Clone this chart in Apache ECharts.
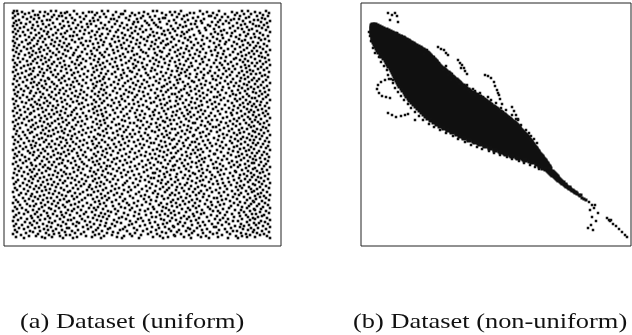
<!DOCTYPE html>
<html>
<head>
<meta charset="utf-8">
<script src="https://cdn.jsdelivr.net/npm/echarts@6/dist/echarts.min.js"></script>
<style>
  html, body { margin: 0; padding: 0; background: #fff; }
  #chart { width: 632px; height: 335px; }
</style>
</head>
<body>
<div id="chart"></div>
<script>
// Sub-figure captions
const captions = ['(a) Dataset (uniform)', '(b) Dataset (non-uniform)'];

// Uniform dataset, stored row by row: [y, x1, x2, ...]
const uniformRows = [
[235,10,13,29,47,52,70,98,104,121,149,153,177,196,215,238,244,262],
[234,18,36,41,63,85,88,112,140,166,171,203,228,251],
[233,9,25,57,61,79,93,128,135,158,186,190,209,233,256,265],
[232,14,21,44,73,100,117,119,144,175,199,221,240,247],
[231,31,34,50,66,91,109,131,162,168,183,213,231,259],
[230,11,40,55,58,82,126,139,151,180,205,207,236,253,264],
[229,19,27,48,76,96,102,115,146,173,194,218,224,245],
[228,9,35,62,68,89,122,137,159,161,189,211,242,258],
[227,23,30,53,80,107,110,133,155,178,200,230,235,261],
[226,15,43,46,71,94,125,148,170,184,216,227,250,254],
[225,12,38,59,86,90,113,141,165,192,197,222,239,266],
[224,26,33,64,77,105,130,134,156,181,208,214,246,257],
[223,10,17,49,69,97,118,143,150,172,198,225,233,263],
[222,22,39,56,83,87,111,129,163,187,191,219,241,249],
[221,13,29,45,74,101,123,145,152,176,204,212,237,260],
[220,9,34,60,65,92,116,138,167,182,206,229,252,255],
[219,20,42,51,78,84,108,132,154,179,193,215,243,264],
[218,16,28,58,72,99,120,127,157,174,201,226,234,258],
[217,11,37,47,67,95,103,136,147,169,188,210,238,248],
[216,24,31,54,81,114,124,142,164,185,202,220,245,262],
[215,14,40,63,76,88,106,131,160,171,195,217,231,253],
[214,9,19,44,70,93,112,139,149,178,183,211,240,266],
[213,27,35,52,61,85,118,128,153,166,196,223,228,256],
[212,12,43,57,80,98,104,134,158,180,207,214,244,250],
[211,21,32,49,73,91,121,146,161,173,190,218,236,259],
[210,16,38,66,69,96,110,126,150,177,199,227,242,264],
[209,10,25,45,59,87,114,137,144,168,186,209,232,251],
[208,30,36,53,78,102,119,129,155,181,203,219,247,255],
[207,13,41,62,75,92,108,140,163,170,192,213,235,261],
[206,22,28,48,68,97,123,133,152,184,198,225,241,257],
[205,9,34,56,82,86,115,143,159,175,206,216,238,265],
[204,18,39,51,71,100,111,127,148,167,187,222,230,249],
[203,11,26,60,77,94,120,136,157,179,194,210,244,254],
[202,24,33,47,65,89,106,132,151,164,200,221,233,260],
[201,15,42,55,79,99,117,141,162,172,190,215,239,246],
[200,10,30,50,63,84,107,125,147,183,197,228,252,263],
[199,20,37,58,74,95,113,135,154,169,205,212,236,256],
[198,13,27,44,67,90,118,129,160,177,188,217,243,250],
[197,23,35,53,81,103,122,145,150,182,199,224,231,259],
[196,9,40,61,72,93,109,137,166,174,193,211,240,266],
[195,17,29,46,64,87,114,128,156,185,207,220,248,253],
[194,12,36,55,78,101,124,139,158,171,196,229,237,262],
[193,25,32,49,70,96,110,142,151,180,202,214,245,257],
[192,15,43,59,83,88,119,133,165,176,191,219,234,250],
[191,21,28,52,69,98,105,130,153,186,208,226,242,264],
[190,10,38,62,76,91,116,144,163,173,195,213,238,255],
[189,26,34,47,74,100,121,136,157,179,201,222,247,258],
[188,14,41,57,66,86,112,127,149,168,189,217,232,261],
[187,19,31,54,79,95,108,140,160,184,198,230,241,251],
[186,9,37,45,73,90,117,131,152,175,205,212,236,265],
[185,23,29,60,82,103,125,146,166,182,192,221,244,256],
[184,16,42,50,68,94,111,134,155,171,199,227,239,262],
[183,11,33,56,77,99,122,138,161,187,210,216,248,253],
[182,27,39,48,71,87,106,129,150,176,196,224,233,259],
[181,13,24,61,75,96,118,143,165,180,203,218,241,266],
[180,20,44,53,65,92,113,132,154,172,188,229,245,251],
[179,10,35,58,81,101,109,139,158,185,207,213,237,257],
[178,17,30,46,72,89,124,130,148,174,194,220,242,263],
[177,26,38,62,78,98,114,141,164,178,200,225,231,254],
[176,12,43,51,67,93,119,135,151,183,191,215,246,260],
[175,22,29,57,84,104,126,147,168,173,206,222,238,249],
[174,9,36,47,74,90,111,128,157,181,197,228,243,265],
[173,18,40,63,70,97,120,142,162,177,204,211,235,256],
[172,14,27,54,80,102,108,133,153,186,193,219,247,252],
[171,25,34,49,68,88,117,144,167,175,200,226,240,261],
[170,11,39,60,76,95,123,137,159,182,208,214,233,258],
[169,21,31,52,83,100,112,131,150,171,192,223,244,264],
[168,16,44,58,71,91,118,146,165,185,199,217,237,250],
[167,10,28,45,65,99,105,127,156,176,209,229,241,255],
[166,23,37,55,79,87,115,140,161,173,195,212,248,262],
[165,13,41,61,73,96,124,134,152,188,202,221,236,253],
[164,19,30,48,69,93,110,143,166,179,190,227,245,259],
[163,27,35,57,82,101,121,129,155,174,206,216,232,266],
[162,9,42,50,75,89,114,138,163,184,197,224,240,251],
[161,15,33,63,67,98,107,132,149,170,201,213,243,257],
[160,22,38,53,78,92,119,145,160,181,193,230,235,263],
[159,12,29,46,70,103,126,136,158,186,208,219,247,254],
[158,24,40,59,84,90,111,141,167,172,198,225,238,260],
[157,17,34,51,66,97,116,130,153,180,191,211,244,250],
[156,10,43,56,77,100,122,147,164,177,204,218,234,265],
[155,20,27,62,72,88,109,135,157,187,195,228,241,256],
[154,14,36,48,80,95,125,139,162,175,207,214,249,261],
[153,26,32,55,68,102,113,128,151,183,199,222,236,252],
[152,11,39,60,76,91,120,144,168,171,192,229,243,258],
[151,19,45,52,83,99,106,133,159,185,203,216,232,264],
[150,13,30,64,71,94,117,140,154,178,196,226,245,255],
[149,23,37,47,74,87,124,131,165,173,210,213,239,262],
[148,16,41,57,79,103,112,146,152,188,200,220,248,251],
[147,9,28,50,67,96,118,137,160,176,193,231,236,259],
[146,25,35,61,82,90,108,129,156,182,206,217,242,266],
[145,12,43,53,73,100,121,142,166,172,197,224,233,253],
[144,18,31,58,69,92,115,134,150,187,203,211,246,257],
[143,22,40,46,78,98,110,147,163,179,191,228,239,263],
[142,10,33,63,75,88,125,130,157,174,208,215,244,250],
[141,27,36,54,84,104,116,139,161,185,198,221,236,256],
[140,14,44,49,66,95,107,135,153,171,195,230,248,261],
[139,20,29,59,80,91,122,143,167,181,204,212,240,252],
[138,11,38,52,72,101,113,128,158,188,192,225,234,265],
[137,24,34,62,77,89,119,145,164,176,209,218,243,258],
[136,16,42,48,70,97,109,133,151,183,197,229,247,254],
[135,9,30,57,85,93,126,138,160,173,201,214,237,262],
[134,21,39,53,68,102,117,149,169,186,194,222,245,250],
[133,13,27,61,79,90,111,131,155,178,207,227,233,259],
[132,26,45,50,73,98,123,141,162,184,199,216,241,264],
[131,17,35,56,67,94,106,136,150,172,190,228,249,255],
[130,10,41,64,82,99,120,146,168,180,205,211,238,261],
[129,23,31,47,76,87,114,132,157,187,196,223,244,252],
[128,15,37,58,71,103,125,140,163,175,202,219,235,266],
[127,20,43,54,83,92,110,148,154,182,193,230,246,257],
[126,12,28,62,69,100,118,134,166,170,208,213,240,251],
[125,25,36,51,78,96,121,137,159,185,198,226,233,263],
[124,9,40,59,74,89,108,143,161,177,204,217,248,254],
[123,18,32,48,65,101,126,130,152,189,191,222,242,260],
[122,14,44,55,81,93,115,147,167,173,206,229,236,256],
[121,22,29,63,72,97,112,139,156,180,197,215,245,265],
[120,11,38,46,77,104,119,133,164,184,201,224,232,250],
[119,27,34,57,68,88,124,145,153,176,209,212,247,259],
[118,16,42,52,84,95,107,136,160,187,194,220,238,262],
[117,10,31,61,70,102,116,142,168,171,203,228,243,253],
[116,24,39,49,79,91,122,129,155,183,192,216,235,257],
[115,13,45,58,66,99,113,148,162,178,207,225,249,264],
[114,19,28,54,75,87,120,135,151,186,199,213,240,251],
[113,26,37,60,82,103,109,141,166,174,196,230,236,260],
[112,12,41,50,71,94,126,131,158,181,205,219,245,255],
[111,21,33,64,78,96,114,144,163,172,190,223,233,266],
[110,15,44,47,68,100,118,137,154,189,202,215,248,258],
[109,9,30,56,85,90,123,128,160,177,197,227,239,252],
[108,23,38,59,73,105,111,146,165,184,210,220,243,263],
[107,17,35,53,67,92,119,139,152,170,193,231,237,256],
[106,11,42,62,80,98,108,134,168,182,204,214,246,250],
[105,25,29,48,76,88,125,143,157,175,199,226,234,261],
[104,14,40,57,69,101,115,130,161,188,191,218,241,265],
[103,20,32,63,83,95,121,147,150,179,206,228,249,254],
[102,10,45,51,72,89,110,136,166,173,195,212,237,259],
[101,27,36,55,79,104,117,140,155,186,201,222,244,252],
[100,16,31,61,66,93,124,132,162,180,208,216,233,264],
[99,22,43,47,75,97,112,145,158,171,192,230,247,257],
[98,12,28,58,84,91,106,138,169,184,203,219,240,262],
[97,19,39,52,70,102,120,128,153,177,197,225,236,250],
[96,9,34,64,77,87,116,149,164,189,194,213,245,266],
[95,24,41,49,68,99,109,135,156,174,206,229,242,255],
[94,15,30,60,81,94,126,142,160,182,199,217,234,260],
[93,26,37,54,73,103,114,131,167,172,191,224,248,253],
[92,11,44,57,65,90,122,146,151,187,210,211,238,263],
[91,18,29,50,79,98,107,137,163,178,196,227,243,258],
[90,13,35,62,74,92,118,141,155,183,205,220,235,251],
[89,21,40,47,82,101,125,133,159,170,193,232,246,265],
[88,10,33,56,69,88,113,148,168,186,201,214,240,256],
[87,25,43,53,76,96,110,130,152,176,198,223,249,261],
[86,16,31,59,85,104,121,144,161,181,207,218,237,252],
[85,22,38,64,71,93,116,138,166,173,195,228,244,264],
[84,12,45,50,78,89,108,127,154,188,200,212,233,257],
[83,19,27,58,67,100,123,146,157,178,192,225,248,250],
[82,9,36,55,80,95,112,135,164,184,209,216,241,262],
[81,28,41,48,72,91,119,142,150,171,197,230,236,255],
[80,14,32,61,83,103,106,131,169,180,204,219,245,260],
[79,23,39,52,75,97,126,139,159,187,193,227,234,266],
[78,17,44,63,69,87,115,147,162,175,210,213,242,251],
[77,11,30,46,79,102,109,133,153,182,198,222,249,258],
[76,26,35,57,74,94,120,143,167,170,203,217,238,263],
[75,15,42,51,86,99,113,128,156,185,195,231,244,253],
[74,20,28,60,70,90,124,140,163,177,206,214,232,259],
[73,10,38,54,77,104,117,149,151,189,199,226,247,256],
[72,24,33,62,66,92,107,135,160,173,191,220,240,265],
[71,13,45,49,81,98,122,130,166,181,208,216,236,250],
[70,18,31,58,73,88,111,144,155,186,197,229,243,261],
[69,27,40,53,84,101,118,137,161,172,202,211,248,254],
[68,9,36,64,68,95,126,147,150,179,193,224,235,257],
[67,21,29,47,78,91,109,132,167,184,207,218,241,264],
[66,14,43,56,71,103,114,141,158,174,199,230,246,252],
[65,25,34,61,82,89,123,136,154,188,196,213,237,260],
[64,12,39,50,75,97,106,145,164,171,205,225,244,255],
[63,19,28,59,67,93,121,129,157,183,192,219,233,266],
[62,10,44,54,80,100,112,148,162,176,209,214,249,258],
[61,23,37,48,72,86,119,134,168,181,198,227,240,251],
[60,16,32,63,77,96,108,142,152,187,201,221,236,262],
[59,26,41,52,85,92,125,131,159,173,194,232,245,256],
[58,11,35,57,69,102,115,146,165,178,206,216,238,265],
[57,20,30,46,74,88,111,138,156,185,191,223,247,253],
[56,13,42,60,83,99,120,127,163,172,203,212,234,259],
[55,24,38,51,66,94,107,143,151,180,197,228,242,250],
[54,9,33,64,79,90,124,135,161,189,208,220,248,263],
[53,17,45,55,71,104,113,149,168,175,195,215,237,257],
[52,22,28,49,76,97,118,132,154,183,200,231,244,254],
[51,15,40,58,84,87,110,141,166,171,192,224,235,266],
[50,27,36,62,68,101,126,137,158,186,205,217,251,260],
[49,10,31,53,73,93,116,145,153,177,199,229,240,256],
[48,19,43,47,81,98,105,129,164,182,210,213,246,262],
[47,25,34,60,70,89,121,140,160,174,193,222,233,252],
[46,12,39,56,78,103,112,147,169,188,203,218,243,265],
[45,21,29,50,65,95,119,134,152,179,196,226,249,258],
[44,14,44,63,75,91,108,142,167,185,207,214,236,250],
[43,9,37,54,83,100,123,130,157,172,191,230,241,261],
[42,23,32,48,71,96,115,146,163,181,201,220,247,255],
[41,16,41,59,67,87,125,138,155,176,208,216,234,264],
[40,26,30,52,79,102,109,133,168,189,195,227,245,253],
[39,11,38,61,74,94,117,149,159,173,204,212,238,259],
[38,18,45,55,85,90,121,128,162,184,192,225,243,266],
[37,13,35,47,70,99,111,144,150,178,206,219,250,257],
[36,22,29,64,77,92,126,136,165,186,198,231,237,251],
[35,9,40,51,68,104,114,141,158,170,209,214,246,262],
[34,24,33,57,82,88,107,131,153,182,193,223,240,256],
[33,15,43,62,73,97,120,147,167,175,200,216,235,265],
[32,20,31,49,80,101,112,135,161,189,197,228,248,252],
[31,12,37,58,66,91,124,142,156,171,207,221,242,260],
[30,27,44,53,76,95,105,130,164,180,190,213,236,258],
[29,10,34,60,84,99,118,148,152,185,203,230,244,254],
[28,17,28,46,70,89,115,137,168,177,195,219,249,263],
[27,23,41,56,78,103,122,134,157,183,211,224,238,251],
[26,14,36,64,67,93,110,145,160,172,192,216,246,266],
[25,9,30,51,81,97,126,139,166,187,205,229,234,257],
[24,21,45,59,73,86,113,132,151,176,199,222,243,261],
[23,26,33,48,75,102,117,146,163,181,194,214,250,255],
[22,12,39,62,69,90,108,128,159,174,208,225,237,264],
[21,18,28,54,83,96,125,141,154,188,201,218,245,252],
[20,10,43,57,72,101,111,136,169,179,196,231,240,259],
[19,24,35,47,79,87,121,148,161,170,210,212,236,266],
[18,15,31,63,65,94,106,130,155,184,193,227,247,254],
[17,20,40,52,84,104,119,143,165,186,203,221,239,262],
[16,11,44,58,74,92,116,133,152,175,198,215,244,250],
[15,26,36,49,68,98,123,139,167,182,190,229,233,258],
[14,13,29,61,80,89,109,147,158,173,206,223,249,265],
[13,22,42,55,71,103,114,131,162,188,199,213,237,253],
[12,9,34,50,77,95,126,144,153,177,209,226,242,260],
[11,17,45,62,66,91,108,137,170,185,194,218,246,256],
[10,25,32,56,82,100,120,128,156,171,202,232,238,263],
[9,12,38,48,73,88,113,149,164,180,197,214,243,251],
[8,20,41,59,69,97,118,135,159,187,205,224,234,266]
];

// Non-uniform dataset, dense body of the band: [y, x1, x2, ...]
const clusterCoreRows = [
[221,12,14],[220,11,16],[219,13,18],[218,11,16,20],[217,13,18,22],[216,11,16,21,25],
[215,13,18,23,27],[214,11,16,21,26,29],[213,13,18,23,28,31],[212,11,16,21,26,31,33],
[211,13,18,23,28,33,35],[210,12,17,22,27,32,37],[209,14,19,24,29,34,39],
[208,12,17,22,27,32,37,42],[207,14,19,24,29,34,39,43],[206,12,17,22,27,32,37,42,45],
[205,15,20,25,30,35,40,45,47],[204,13,18,23,28,33,38,43,48],[203,15,20,25,30,35,40,45,50],
[202,14,19,24,29,34,39,44,49,52],[201,16,21,26,31,36,41,46,51,53],[200,15,20,25,30,35,40,45,50,55],
[199,17,22,27,32,37,42,47,52,57],[198,16,21,26,31,36,41,46,51,56,59],[197,18,23,28,33,38,43,48,53,58,60],
[196,17,22,27,32,37,42,47,52,57,62],[195,20,25,30,35,40,45,50,55,60,63],[194,18,23,28,33,38,43,48,53,58,63],
[193,21,26,31,36,41,46,51,56,61,66],[192,20,25,30,35,40,45,50,55,60,65,67],[191,23,28,33,38,43,48,53,58,63,68],
[190,21,26,31,36,41,46,51,56,61,66,69],[189,24,29,34,39,44,49,54,59,64,69],[188,23,28,33,38,43,48,53,58,63,68,71],
[187,26,31,36,41,46,51,56,61,66,71],[186,25,30,35,40,45,50,55,60,65,70,73],[185,27,32,37,42,47,52,57,62,67,72,74],
[184,26,31,36,41,46,51,56,61,66,71,75],[183,28,33,38,43,48,53,58,63,68,73,75],[182,27,32,37,42,47,52,57,62,67,72,76],
[181,30,35,40,45,50,55,60,65,70,75,77],[180,28,33,38,43,48,53,58,63,68,73,78],[179,31,36,41,46,51,56,61,66,71,76,79],
[178,30,35,40,45,50,55,60,65,70,75,80],[177,32,37,42,47,52,57,62,67,72,77,82],[176,31,36,41,46,51,56,61,66,71,76,81,83],
[175,33,38,43,48,53,58,63,68,73,78,83,84],[174,32,37,42,47,52,57,62,67,72,77,82,85],[173,34,39,44,49,54,59,64,69,74,79,84,87],
[172,33,38,43,48,53,58,63,68,73,78,83,88],[171,35,40,45,50,55,60,65,70,75,80,85,89],[170,34,39,44,49,54,59,64,69,74,79,84,89],
[169,36,41,46,51,56,61,66,71,76,81,86,91],[168,35,40,45,50,55,60,65,70,75,80,85,90,92],[167,37,42,47,52,57,62,67,72,77,82,87,92,93],
[166,36,41,46,51,56,61,66,71,76,81,86,91,95],[165,38,43,48,53,58,63,68,73,78,83,88,93,96],[164,37,42,47,52,57,62,67,72,77,82,87,92,97],
[163,39,44,49,54,59,64,69,74,79,84,89,94,98],[162,38,43,48,53,58,63,68,73,78,83,88,93,98,99],[161,40,45,50,55,60,65,70,75,80,85,90,95,100],
[160,39,44,49,54,59,64,69,74,79,84,89,94,99,102],[159,42,47,52,57,62,67,72,77,82,87,92,97,102,103],
[158,41,46,51,56,61,66,71,76,81,86,91,96,101,104],[157,43,48,53,58,63,68,73,78,83,88,93,98,103,105],
[156,42,47,52,57,62,67,72,77,82,87,92,97,102,107],[155,45,50,55,60,65,70,75,80,85,90,95,100,105,108],
[154,44,49,54,59,64,69,74,79,84,89,94,99,104,109],[153,46,51,56,61,66,71,76,81,86,91,96,101,106,111],
[152,45,50,55,60,65,70,75,80,85,90,95,100,105,110,113],[151,47,52,57,62,67,72,77,82,87,92,97,102,107,112,114],
[150,46,51,56,61,66,71,76,81,86,91,96,101,106,111,116],[149,49,54,59,64,69,74,79,84,89,94,99,104,109,114,118],
[148,48,53,58,63,68,73,78,83,88,93,98,103,108,113,118,119],[147,50,55,60,65,70,75,80,85,90,95,100,105,110,115,120,121],
[146,49,54,59,64,69,74,79,84,89,94,99,104,109,114,119,122],[145,52,57,62,67,72,77,82,87,92,97,102,107,112,117,122,124],
[144,51,56,61,66,71,76,81,86,91,96,101,106,111,116,121,125],[143,54,59,64,69,74,79,84,89,94,99,104,109,114,119,124,127],
[142,53,58,63,68,73,78,83,88,93,98,103,108,113,118,123,128],[141,56,61,66,71,76,81,86,91,96,101,106,111,116,121,126,129],
[140,55,60,65,70,75,80,85,90,95,100,105,110,115,120,125,130],[139,58,63,68,73,78,83,88,93,98,103,108,113,118,123,128,132],
[138,57,62,67,72,77,82,87,92,97,102,107,112,117,122,127,132,133],[137,60,65,70,75,80,85,90,95,100,105,110,115,120,125,130,135],
[136,59,64,69,74,79,84,89,94,99,104,109,114,119,124,129,134,136],[135,62,67,72,77,82,87,92,97,102,107,112,117,122,127,132,137],
[134,61,66,71,76,81,86,91,96,101,106,111,116,121,126,131,136,139],[133,64,69,74,79,84,89,94,99,104,109,114,119,124,129,134,139,140],
[132,63,68,73,78,83,88,93,98,103,108,113,118,123,128,133,138,141],[131,66,71,76,81,86,91,96,101,106,111,116,121,126,131,136,141,143],
[130,65,70,75,80,85,90,95,100,105,110,115,120,125,130,135,140,144],[129,68,73,78,83,88,93,98,103,108,113,118,123,128,133,138,143,145],
[128,67,72,77,82,87,92,97,102,107,112,117,122,127,132,137,142,146],[127,71,76,81,86,91,96,101,106,111,116,121,126,131,136,141,146,148],
[126,70,75,80,85,90,95,100,105,110,115,120,125,130,135,140,145,149],[125,74,79,84,89,94,99,104,109,114,119,124,129,134,139,144,149,150],
[124,73,78,83,88,93,98,103,108,113,118,123,128,133,138,143,148,151],[123,77,82,87,92,97,102,107,112,117,122,127,132,137,142,147,152,153],
[122,76,81,86,91,96,101,106,111,116,121,126,131,136,141,146,151,154],[121,80,85,90,95,100,105,110,115,120,125,130,135,140,145,150,155],
[120,79,84,89,94,99,104,109,114,119,124,129,134,139,144,149,154,156],[119,83,88,93,98,103,108,113,118,123,128,133,138,143,148,153,157],
[118,83,88,93,98,103,108,113,118,123,128,133,138,143,148,153,158],[117,87,92,97,102,107,112,117,122,127,132,137,142,147,152,157,158],
[116,87,92,97,102,107,112,117,122,127,132,137,142,147,152,157,159],[115,91,96,101,106,111,116,121,126,131,136,141,146,151,156,160],
[114,91,96,101,106,111,116,121,126,131,136,141,146,151,156,161],[113,96,101,106,111,116,121,126,131,136,141,146,151,156,161,162],
[112,96,101,106,111,116,121,126,131,136,141,146,151,156,161,163],[111,100,105,110,115,120,125,130,135,140,145,150,155,160,164],
[110,99,104,109,114,119,124,129,134,139,144,149,154,159,164,165],[109,103,108,113,118,123,128,133,138,143,148,153,158,163,166],
[108,103,108,113,118,123,128,133,138,143,148,153,158,163,167],[107,108,113,118,123,128,133,138,143,148,153,158,163,167],
[106,108,113,118,123,128,133,138,143,148,153,158,163,168],[105,113,118,123,128,133,138,143,148,153,158,163,168,169],
[104,114,119,124,129,134,139,144,149,154,159,164,169,170],[103,118,123,128,133,138,143,148,153,158,163,168,170],
[102,119,124,129,134,139,144,149,154,159,164,169,171],[101,124,129,134,139,144,149,154,159,164,169,172],
[100,124,129,134,139,144,149,154,159,164,169,172],[99,129,134,139,144,149,154,159,164,169,173],
[98,129,134,139,144,149,154,159,164,169,174],[97,134,139,144,149,154,159,164,169,174,175],
[96,134,139,144,149,154,159,164,169,174,175],[95,139,144,149,154,159,164,169,174,176],
[94,140,145,150,155,160,165,170,175,177],[93,144,149,154,159,164,169,174,177],
[92,145,150,155,160,165,170,175,178],[91,150,155,160,165,170,175,179],[90,151,156,161,166,171,176,180],
[89,156,161,166,171,176,181],[88,157,162,167,172,177,181],[87,163,168,173,178,182],[86,164,169,174,179,183],
[85,169,174,179,184],[84,171,176,181,184],[83,176,181,185],[82,176,181,186],[81,179,184,186],
[80,179,184,187],[79,182,186,188],[78,182,186,188],[77,185,189]
];

// Non-uniform dataset, thin tail of the band: [y, x1, x2, ...]
const clusterTailRows = [
[75,186,188,190,192],[74,187,189,191,193],[73,188,190,192,194],
[72,189,191,193,195],[71,190,192,194,196],[70,191,193,195,197],
[69,193,195,197],[68,194,196,198],[67,195,197,199],[66,196,198,200],
[65,197,199,201],[64,199,201,203],[63,200,202],[62,201,203,205],
[61,203,205],[60,204,206],[59,205,207,209],[58,207,209],[57,208,210],
[56,210,212],[55,211,213],[54,213,215],[53,214,216],[52,216],
[51,218,220],[50,219],[48,221],[47,223],[46,225]
];

// Non-uniform dataset: scattered points around the band, as [x, y]
const clusterStray = [
[27,233],[31,231],[34,233],[36,230],[29,226],[37,224],[9,210],[8,214],
[77,199],[80,197],[83,196],[85,193],[87,191],
[97,186],[99,183],[101,181],[100,178],[103,178],[104,175],[106,172],
[124,171],[127,170],[130,168],[133,164],[134,160],[136,156],[137,153],[138,151],[139,147],[141,142],
[151,139],[153,135],[155,131],[157,127],
[32,166],[28,167],[24,166],[20,164],[17,161],[16,157],[18,153],[21,150],[25,149],[29,148],
[27,133],[31,131],[35,129],[40,130],[44,131],[47,132],[54,126],
[30,214],[34,211],[44,208],[47,206],[52,203],[55,201],[57,199],[49,205],[41,210],[36,213],
[59,198],[62,197],[65,195],[63,192],[68,193],[71,190],[70,188],[74,187],[76,185],[73,189],[66,196],[78,183],
[78,181],[80,179],[83,178],[82,176],[86,175],[88,173],[87,171],[91,172],[93,169],[90,166],[95,167],[85,180],
[96,165],[99,164],[98,162],[101,160],[104,159],[103,157],[107,156],[109,154],[111,153],[106,161],[112,157],[114,151],
[114,155],[117,152],[120,150],[122,149],[124,147],[126,145],[128,144],[131,142],[133,140],[119,153],[127,149],[130,146],[135,143],
[135,139],[137,137],[139,135],[142,134],[144,132],[146,130],[148,129],[150,127],[152,125],[140,138],[145,136],[151,131],[155,127],
[154,124],[156,122],[158,120],[159,118],[161,116],[162,114],[164,112],[166,110],[157,126],[160,121],[165,116],[168,113],
[167,108],[169,106],[171,104],[172,102],[174,100],[175,98],[177,96],[170,110],[173,107],[176,103],
[10,205],[12,198],[14,193],[18,189],[20,184],[23,180],[26,176],[27,171],[30,167],[32,163],[34,158],[37,154],
[40,150],[43,146],[47,142],[50,138],[54,134],[58,130],[62,126],[68,122],[73,119],[79,116],[85,113],[92,110],
[97,107],[104,104],[110,101],[116,99],[121,97],[128,95],[133,93],[139,91],[146,89],[151,87],[158,85],[163,83],
[169,81],[174,79],[178,77],
[228,44],[231,41],[233,38],[229,36],[234,41],[237,33],[231,29],[235,25],[232,16],[227,18],[230,21],
[246,28],[248,26],[249,25],[250,26],[252,22],[255,20],[258,17],[261,14],[264,11],[266,9]
];

function rowsToPoints(rows) {
  const pts = [];
  rows.forEach(function (r) {
    for (let i = 1; i < r.length; i++) pts.push([r[i], r[0]]);
  });
  return pts;
}

const chart = echarts.init(document.getElementById('chart'), null, { renderer: 'canvas' });

const frame = { show: true, borderColor: '#222', borderWidth: 1, backgroundColor: '#fff' };
const hiddenAxis = { show: false, splitLine: { show: false } };
const dot = { color: '#111', opacity: 1 };

function dots(xi, data, size) {
  return {
    type: 'scatter', xAxisIndex: xi, yAxisIndex: xi, silent: true,
    symbol: 'rect', symbolSize: size, itemStyle: dot, data: data
  };
}

function caption(text, x) {
  return {
    type: 'text', x: x, y: 322, scaleX: 1.2, silent: true,
    style: { text: text, font: '22px "Liberation Serif"', fill: '#111',
             align: 'left', verticalAlign: 'middle', textAlign: 'left', textVerticalAlign: 'middle' }
  };
}

chart.setOption({
  animation: false,
  backgroundColor: '#fff',
  grid: [
    Object.assign({ left: 4, top: 3, width: 277, height: 243 }, frame),
    Object.assign({ left: 361, top: 3, width: 270, height: 243 }, frame)
  ],
  xAxis: [
    Object.assign({ type: 'value', gridIndex: 0, min: 0, max: 277 }, hiddenAxis),
    Object.assign({ type: 'value', gridIndex: 1, min: 0, max: 270 }, hiddenAxis)
  ],
  yAxis: [
    Object.assign({ type: 'value', gridIndex: 0, min: 0, max: 243 }, hiddenAxis),
    Object.assign({ type: 'value', gridIndex: 1, min: 0, max: 243 }, hiddenAxis)
  ],
  series: [
    dots(0, rowsToPoints(uniformRows), 2.6),
    dots(1, rowsToPoints(clusterCoreRows), 5),
    dots(1, rowsToPoints(clusterTailRows), 3),
    dots(1, clusterStray, 2.5)
  ],
  graphic: [caption(captions[0], 20), caption(captions[1], 353)]
});
</script>
</body>
</html>
